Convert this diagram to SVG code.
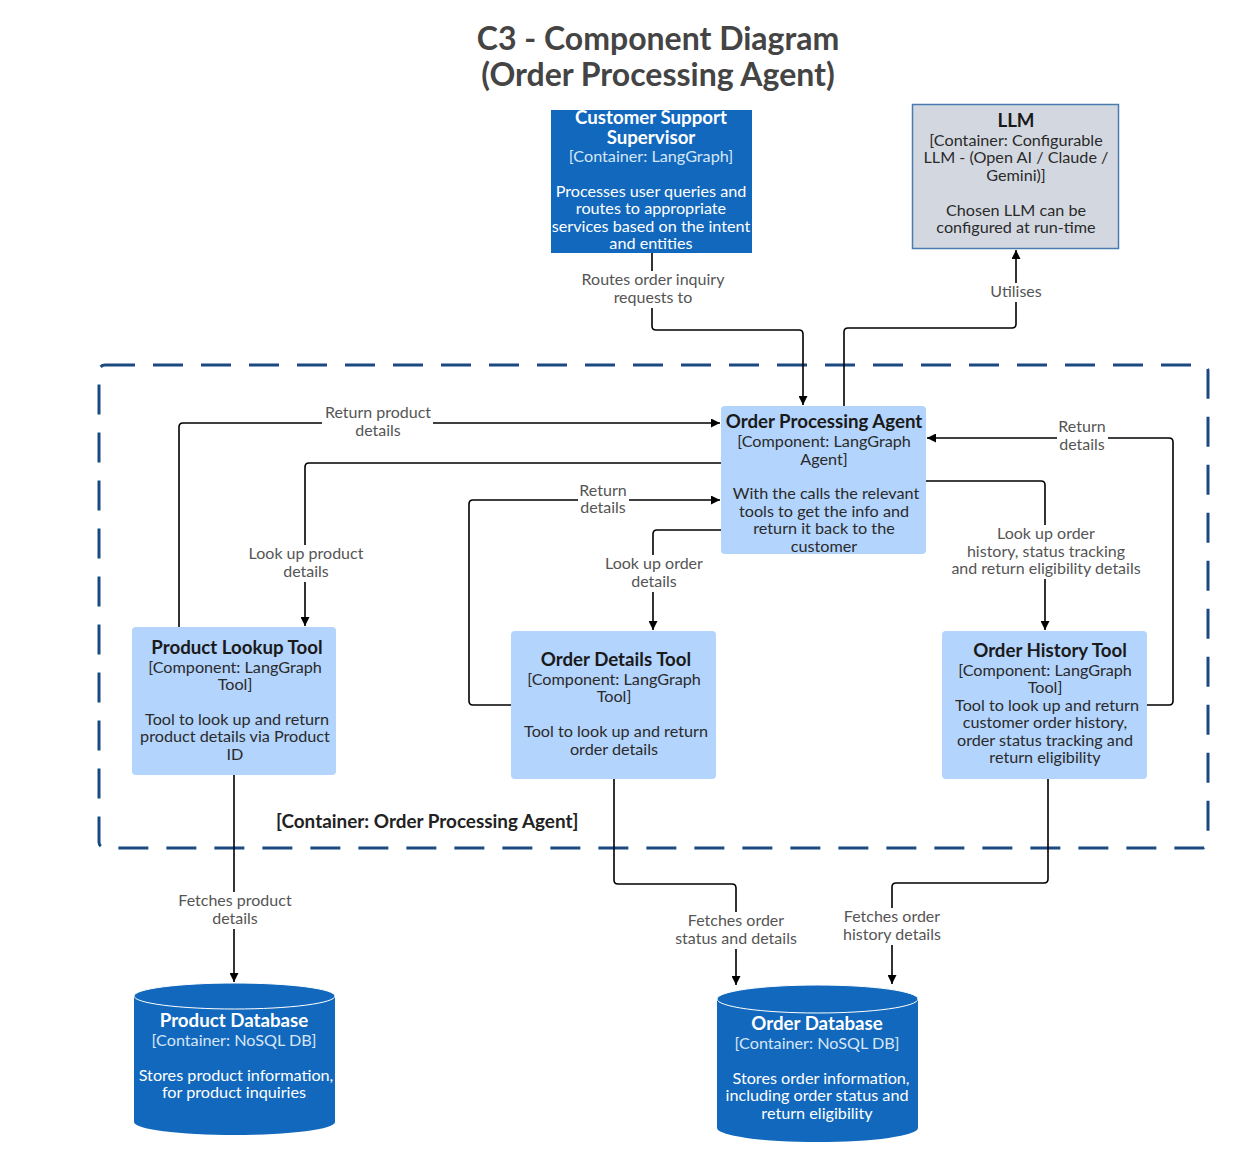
<svg xmlns="http://www.w3.org/2000/svg" width="1257" height="1154" viewBox="0 0 1257 1154">
<style>
  text { font-family: Lato, "Open Sans", "Liberation Sans", sans-serif; text-anchor: middle; }
  .title { font-size: 32px; font-weight: bold; fill: #444444; }
  .nt { font-size: 18.7px; font-weight: bold; }
  .nb { font-size: 16.2px; }
  .dark .nt, .dark .nd { fill: #ffffff; }
  .dark .nb.tech { fill: #d6e6f7; }
  .light .nt { fill: #1a1a1a; }
  .light .nb { fill: #2a2a2a; }
  .comp { fill: #b3d4fd; }
  .blue { fill: #1168bd; }
  .conn path { fill: none; stroke: #000; stroke-width: 1.6; }
  .lbg { fill: #ffffff; }
  .lbl { font-size: 16px; fill: #555555; }
  .boundary { fill: none; stroke: #1a4a80; stroke-width: 3; stroke-dasharray: 30 18; }
</style>
<defs>
  <marker id="arr" viewBox="0 0 10 10" refX="10" refY="5" markerWidth="11" markerHeight="9" markerUnits="userSpaceOnUse" orient="auto">
    <path d="M0,0 L10,5 L0,10 z" fill="#000"/>
  </marker>
</defs>
<rect width="1257" height="1154" fill="#ffffff"/>

<g id="title">
  <text class="title" x="658" y="50">C3 - Component Diagram</text>
  <text class="title" x="658" y="86">(Order Processing Agent)</text>
</g>

<g id="boundary">
  <rect class="boundary" x="99" y="365" width="1109" height="483" rx="6"/>
  <text x="276" y="828" style="text-anchor:start;font-size:18.9px;font-weight:bold;fill:#222">[Container: Order Processing Agent]</text>
</g>

<g class="conn" id="connectors">
  <path d="M652,253 V326 Q652,330 656,330 H799 Q803,330 803,334 V405" marker-end="url(#arr)"/>
  <path d="M844,406 V332 Q844,328 848,328 H1012 Q1016,328 1016,324 V250" marker-end="url(#arr)"/>
  <path d="M179,627 V427 Q179,423 183,423 H720" marker-end="url(#arr)"/>
  <path d="M721,463 H309 Q305,463 305,467 V626" marker-end="url(#arr)"/>
  <path d="M511,705 H473 Q469,705 469,701 V504 Q469,500 473,500 H720" marker-end="url(#arr)"/>
  <path d="M721,530 H657 Q653,530 653,534 V630" marker-end="url(#arr)"/>
  <path d="M926,481 H1041 Q1045,481 1045,485 V630" marker-end="url(#arr)"/>
  <path d="M1147,705 H1169 Q1173,705 1173,701 V442 Q1173,438 1169,438 H927" marker-end="url(#arr)"/>
  <path d="M234,775 V982" marker-end="url(#arr)"/>
  <path d="M614,779 V880 Q614,884 618,884 H732 Q736,884 736,888 V985" marker-end="url(#arr)"/>
  <path d="M1048,779 V879 Q1048,883 1044,883 H896 Q892,883 892,887 V984" marker-end="url(#arr)"/>

  <rect class="lbg" x="579" y="271" width="149" height="37"/>
  <rect class="lbg" x="989" y="283" width="54" height="19"/>
  <rect class="lbg" x="322" y="404" width="111" height="37"/>
  <rect class="lbg" x="247" y="545" width="118" height="37"/>
  <rect class="lbg" x="578" y="482" width="51" height="36"/>
  <rect class="lbg" x="603" y="555" width="102" height="37"/>
  <rect class="lbg" x="948" y="525" width="197" height="54"/>
  <rect class="lbg" x="1057" y="418" width="51" height="37"/>
  <rect class="lbg" x="176" y="892" width="117" height="37"/>
  <rect class="lbg" x="672" y="912" width="127" height="37"/>
  <rect class="lbg" x="841" y="908" width="102" height="37"/>

  <text class="lbl" x="653" y="285">Routes order inquiry</text>
  <text class="lbl" x="653" y="303">requests to</text>
  <text class="lbl" x="1016" y="297">Utilises</text>
  <text class="lbl" x="378" y="418">Return product</text>
  <text class="lbl" x="378" y="436">details</text>
  <text class="lbl" x="306" y="559">Look up product</text>
  <text class="lbl" x="306" y="577">details</text>
  <text class="lbl" x="603" y="496">Return</text>
  <text class="lbl" x="603" y="513">details</text>
  <text class="lbl" x="654" y="569">Look up order</text>
  <text class="lbl" x="654" y="587">details</text>
  <text class="lbl" x="1046" y="539">Look up order</text>
  <text class="lbl" x="1046" y="557">history, status tracking</text>
  <text class="lbl" x="1046" y="574">and return eligibility details</text>
  <text class="lbl" x="1082" y="432">Return</text>
  <text class="lbl" x="1082" y="450">details</text>
  <text class="lbl" x="235" y="906">Fetches product</text>
  <text class="lbl" x="235" y="924">details</text>
  <text class="lbl" x="736" y="926">Fetches order</text>
  <text class="lbl" x="736" y="944">status and details</text>
  <text class="lbl" x="892" y="922">Fetches order</text>
  <text class="lbl" x="892" y="940">history details</text>
</g>

<g id="customer-support-supervisor" class="dark">
  <rect class="blue" x="551" y="110" width="201" height="143"/>
  <text class="nt" x="651" y="124">Customer Support</text>
  <text class="nt" x="651" y="144">Supervisor</text>
  <text class="nb tech" x="651" y="162">[Container: LangGraph]</text>
  <text class="nb nd" x="651" y="197">Processes user queries and</text>
  <text class="nb nd" x="651" y="214">routes to appropriate</text>
  <text class="nb nd" x="651" y="232">services based on the intent</text>
  <text class="nb nd" x="651" y="249">and entities</text>
</g>

<g id="llm" class="light">
  <rect x="912.5" y="104.5" width="206" height="144" fill="#d3d8e0" stroke="#4a7bb0" stroke-width="1.5"/>
  <text class="nt" x="1016" y="127">LLM</text>
  <text class="nb" x="1016" y="146">[Container: Configurable</text>
  <text class="nb" x="1016" y="163">LLM - (Open AI / Claude /</text>
  <text class="nb" x="1016" y="181">Gemini)]</text>
  <text class="nb" x="1016" y="216">Chosen LLM can be</text>
  <text class="nb" x="1016" y="233">configured at run-time</text>
</g>

<g id="order-processing-agent" class="light">
  <rect class="comp" x="721" y="406" width="205" height="148" rx="4"/>
  <text class="nt" x="824" y="428">Order Processing Agent</text>
  <text class="nb" x="824" y="447">[Component: LangGraph</text>
  <text class="nb" x="824" y="465">Agent]</text>
  <text class="nb" x="826" y="499">With the calls the relevant</text>
  <text class="nb" x="824" y="517">tools to get the info and</text>
  <text class="nb" x="824" y="534">return it back to the</text>
  <text class="nb" x="824" y="552">customer</text>
</g>

<g id="product-lookup-tool" class="light">
  <rect class="comp" x="132" y="627" width="204" height="148" rx="4"/>
  <text class="nt" x="237" y="654">Product Lookup Tool</text>
  <text class="nb" x="235" y="673">[Component: LangGraph</text>
  <text class="nb" x="235" y="690">Tool]</text>
  <text class="nb" x="237" y="725">Tool to look up and return</text>
  <text class="nb" x="235" y="742">product details via Product</text>
  <text class="nb" x="235" y="760">ID</text>
</g>

<g id="order-details-tool" class="light">
  <rect class="comp" x="511" y="631" width="205" height="148" rx="4"/>
  <text class="nt" x="616" y="666">Order Details Tool</text>
  <text class="nb" x="614" y="685">[Component: LangGraph</text>
  <text class="nb" x="614" y="702">Tool]</text>
  <text class="nb" x="616" y="737">Tool to look up and return</text>
  <text class="nb" x="614" y="755">order details</text>
</g>

<g id="order-history-tool" class="light">
  <rect class="comp" x="942" y="631" width="205" height="148" rx="4"/>
  <text class="nt" x="1050" y="657">Order History Tool</text>
  <text class="nb" x="1045" y="676">[Component: LangGraph</text>
  <text class="nb" x="1045" y="693">Tool]</text>
  <text class="nb" x="1047" y="711">Tool to look up and return</text>
  <text class="nb" x="1045" y="728">customer order history,</text>
  <text class="nb" x="1045" y="746">order status tracking and</text>
  <text class="nb" x="1045" y="763">return eligibility</text>
</g>

<g id="product-database" class="dark">
  <path class="blue" d="M134,996 A100.5,13 0 0 1 335,996 V1122 A100.5,13 0 0 1 134,1122 Z"/>
  <ellipse cx="234.5" cy="996" rx="100.5" ry="13" fill="none" stroke="#ffffff" stroke-width="1"/>
  <text class="nt" x="234" y="1027">Product Database</text>
  <text class="nb tech" x="234" y="1046">[Container: NoSQL DB]</text>
  <text class="nb nd" x="236" y="1081">Stores product information,</text>
  <text class="nb nd" x="234" y="1098">for product inquiries</text>
</g>

<g id="order-database" class="dark">
  <path class="blue" d="M717,999 A100.5,14 0 0 1 918,999 V1128 A100.5,14 0 0 1 717,1128 Z"/>
  <ellipse cx="817.5" cy="999" rx="100.5" ry="14" fill="none" stroke="#ffffff" stroke-width="1"/>
  <text class="nt" x="817" y="1030">Order Database</text>
  <text class="nb tech" x="817" y="1049">[Container: NoSQL DB]</text>
  <text class="nb nd" x="821" y="1084">Stores order information,</text>
  <text class="nb nd" x="817" y="1101">including order status and</text>
  <text class="nb nd" x="817" y="1119">return eligibility</text>
</g>
</svg>
